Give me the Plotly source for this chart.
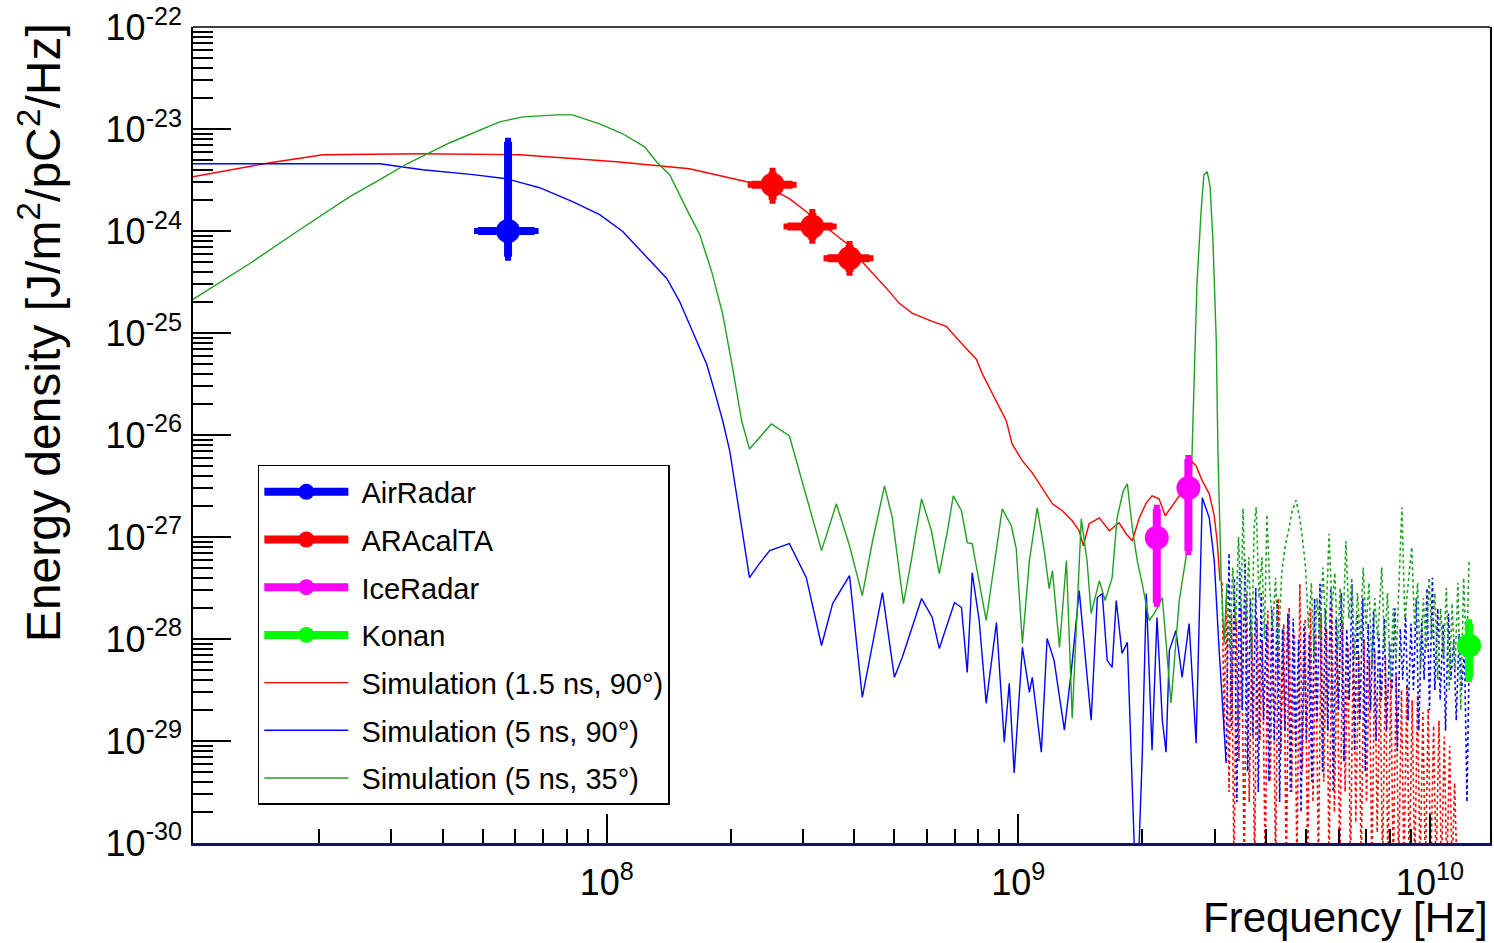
import plotly.graph_objects as go

# ---------------- data ----------------
# Simulation curves stored as log10(frequency/Hz), log10(energy density)
sim15_solid_logf = [6.995, 7.085, 7.182, 7.311, 7.546, 7.789, 7.886, 8.024, 8.201, 8.282, 8.340, 8.371,
                    8.444, 8.500, 8.583, 8.631, 8.680, 8.711, 8.743, 8.791, 8.825, 8.864, 8.898, 8.913,
                    8.947, 8.971, 8.985, 9.010, 9.034, 9.058, 9.083, 9.107, 9.131, 9.148, 9.158, 9.172,
                    9.197, 9.221, 9.245, 9.262, 9.277, 9.294, 9.311, 9.325, 9.342, 9.357, 9.374, 9.391,
                    9.405, 9.420, 9.432, 9.447, 9.464, 9.476, 9.483, 9.490]
sim15_solid_logE = [-23.467, -23.399, -23.330, -23.252, -23.242, -23.252, -23.281, -23.320, -23.389, -23.467,
                    -23.516, -23.526, -23.682, -23.858, -24.122, -24.347, -24.562, -24.709, -24.807, -24.885,
                    -24.934, -25.110, -25.257, -25.403, -25.667, -25.863, -26.088, -26.254, -26.372, -26.518,
                    -26.675, -26.743, -26.841, -26.939, -27.086, -26.870, -26.812, -26.939, -26.861, -26.968,
                    -27.037, -26.812, -26.665, -26.597, -26.626, -26.792, -26.694, -26.597, -26.430, -26.254,
                    -26.303, -26.450, -26.577, -26.792, -27.037, -27.428]
sim15_dot_logf = [9.495, 9.500, 9.505, 9.512, 9.518, 9.524, 9.530, 9.536, 9.542, 9.549, 9.555, 9.561,
                  9.568, 9.574, 9.580, 9.587, 9.593, 9.600, 9.606, 9.612, 9.619, 9.625, 9.632, 9.638,
                  9.645, 9.651, 9.658, 9.664, 9.671, 9.677, 9.684, 9.690, 9.697, 9.703, 9.710, 9.716,
                  9.723, 9.729, 9.736, 9.742, 9.749, 9.755, 9.762, 9.768, 9.775, 9.781, 9.788, 9.794,
                  9.801, 9.807, 9.814, 9.820, 9.827, 9.833, 9.840, 9.846, 9.853, 9.859, 9.866, 9.872,
                  9.879, 9.885, 9.892, 9.898, 9.905, 9.911, 9.918, 9.924, 9.931, 9.937, 9.944, 9.950,
                  9.957, 9.963, 9.970, 9.976, 9.983, 9.989, 9.996, 10.002, 10.009, 10.015, 10.022, 10.028,
                  10.035, 10.041, 10.048, 10.054, 10.060, 10.066]
sim15_dot_logE = [-27.45, -28.90, -27.62, -29.50, -27.75, -30.30, -27.82, -29.20, -27.70, -30.30, -27.56, -29.60,
                  -27.95, -30.30, -27.80, -29.00, -28.02, -30.30, -27.72, -29.40, -27.90, -30.30, -27.60, -29.10,
                  -27.85, -30.30, -27.69, -29.50, -27.95, -30.30, -27.46, -29.30, -27.80, -30.30, -27.70, -29.60,
                  -27.95, -30.30, -27.75, -29.40, -27.90, -30.30, -27.69, -29.70, -28.00, -30.30, -27.85, -29.50,
                  -28.05, -30.30, -27.95, -29.80, -28.15, -30.30, -28.00, -29.60, -28.20, -30.30, -28.11, -29.90,
                  -28.30, -30.30, -28.18, -30.30, -28.40, -30.30, -28.35, -30.30, -28.50, -30.30, -28.45, -30.30,
                  -28.60, -30.30, -28.55, -30.30, -28.72, -30.30, -28.68, -30.30, -28.85, -30.30, -28.80, -30.30,
                  -28.96, -30.30, -29.05, -30.30, -29.41, -30.30]

sim5_90_solid_logf = [6.995, 7.255, 7.449, 7.553, 7.675, 7.757, 7.837, 7.917, 7.983, 8.039, 8.092, 8.146,
                      8.177, 8.218, 8.243, 8.262, 8.282, 8.299, 8.323, 8.347, 8.371, 8.396, 8.444, 8.485,
                      8.522, 8.549, 8.590, 8.621, 8.670, 8.699, 8.718, 8.765, 8.791, 8.808, 8.845, 8.862,
                      8.876, 8.888, 8.905, 8.922, 8.947, 8.966, 8.978, 8.990, 9.010, 9.027, 9.034, 9.056,
                      9.070, 9.087, 9.112, 9.129, 9.148, 9.163, 9.177, 9.192, 9.204, 9.216, 9.228, 9.238,
                      9.252, 9.265, 9.277, 9.284, 9.291, 9.301, 9.311, 9.325, 9.337, 9.350, 9.359, 9.367,
                      9.383, 9.398, 9.415, 9.432, 9.447, 9.464, 9.476, 9.488, 9.505]
sim5_90_solid_logE = [-23.340, -23.340, -23.340, -23.399, -23.447, -23.487, -23.575, -23.711, -23.839, -24.005,
                      -24.230, -24.465, -24.689, -25.081, -25.306, -25.570, -25.863, -26.156, -26.773, -27.399,
                      -27.262, -27.134, -27.066, -27.399, -28.064, -27.653, -27.379, -28.572, -27.545, -28.376,
                      -28.181, -27.604, -27.790, -28.093, -27.643, -27.692, -28.328, -27.350, -27.819, -28.631,
                      -27.839, -29.012, -28.435, -29.315, -28.083, -28.523, -28.376, -29.110, -27.995, -28.210,
                      -28.895, -28.308, -27.526, -28.210, -28.797, -27.594, -27.555, -28.210, -28.279, -27.623,
                      -28.142, -28.034, -29.482, -30.300, -30.300, -29.159, -27.555, -29.090, -27.790, -28.797,
                      -29.110, -28.112, -27.917, -28.376, -27.849, -29.022, -26.616, -26.812, -27.232, -28.112,
                      -29.218]
sim5_90_dot_logf = [9.505, 9.512, 9.518, 9.525, 9.531, 9.538, 9.544, 9.551, 9.557, 9.564, 9.570, 9.577,
                    9.583, 9.590, 9.596, 9.603, 9.609, 9.616, 9.622, 9.629, 9.635, 9.642, 9.648, 9.655,
                    9.661, 9.668, 9.674, 9.681, 9.687, 9.694, 9.700, 9.707, 9.713, 9.720, 9.726, 9.733,
                    9.739, 9.746, 9.752, 9.759, 9.765, 9.772, 9.778, 9.785, 9.791, 9.798, 9.804, 9.811,
                    9.817, 9.824, 9.830, 9.837, 9.843, 9.850, 9.856, 9.863, 9.869, 9.876, 9.882, 9.889,
                    9.895, 9.902, 9.908, 9.915, 9.921, 9.928, 9.934, 9.941, 9.947, 9.954, 9.960, 9.967,
                    9.973, 9.980, 9.986, 9.993, 9.999, 10.006, 10.012, 10.019, 10.025, 10.032, 10.038, 10.045,
                    10.051, 10.058, 10.064, 10.071, 10.077, 10.084, 10.090, 10.095]
sim5_90_dot_logE = [-29.20, -27.16, -28.90, -27.40, -29.60, -27.30, -28.70, -27.22, -29.30, -27.60, -28.95, -27.50,
                    -29.50, -27.55, -28.80, -27.85, -29.40, -27.70, -29.00, -27.62, -29.60, -27.90, -28.90, -27.75,
                    -29.50, -27.80, -29.10, -28.00, -29.70, -27.85, -29.00, -27.95, -29.40, -27.60, -28.80, -27.46,
                    -29.30, -27.70, -28.90, -27.50, -29.50, -27.80, -28.70, -27.55, -29.20, -27.90, -28.60, -27.46,
                    -29.10, -27.75, -28.80, -27.60, -29.30, -27.85, -28.70, -27.72, -29.00, -27.95, -28.60, -27.80,
                    -28.90, -28.05, -28.50, -27.70, -29.10, -27.90, -28.40, -27.75, -28.80, -27.85, -28.50, -27.60,
                    -28.90, -27.80, -28.40, -27.50, -28.70, -27.40, -28.50, -27.70, -28.60, -27.85, -28.90, -27.75,
                    -28.40, -28.00, -28.80, -27.95, -28.50, -28.10, -29.60, -28.30]

sim5_35_solid_logf = [6.995, 7.133, 7.255, 7.376, 7.449, 7.515, 7.619, 7.740, 7.796, 7.879, 7.917, 7.983,
                      8.039, 8.092, 8.121, 8.153, 8.201, 8.226, 8.255, 8.282, 8.306, 8.328, 8.347, 8.400,
                      8.444, 8.481, 8.522, 8.558, 8.590, 8.621, 8.646, 8.675, 8.694, 8.721, 8.740, 8.765,
                      8.789, 8.808, 8.828, 8.842, 8.862, 8.876, 8.888, 8.922, 8.942, 8.961, 8.983, 8.995,
                      9.010, 9.027, 9.046, 9.063, 9.075, 9.083, 9.100, 9.117, 9.131, 9.143, 9.153, 9.167,
                      9.177, 9.197, 9.211, 9.228, 9.240, 9.255, 9.265, 9.277, 9.289, 9.301, 9.318, 9.330,
                      9.350, 9.371, 9.391, 9.410, 9.420, 9.427, 9.434, 9.444, 9.451, 9.459, 9.466, 9.473,
                      9.481, 9.485, 9.493, 9.500, 9.507]
sim5_35_solid_logE = [-24.670, -24.318, -23.985, -23.663, -23.496, -23.340, -23.134, -22.929, -22.880, -22.861,
                      -22.861, -22.949, -23.046, -23.174, -23.320, -23.447, -23.839, -24.034, -24.396, -24.817,
                      -25.345, -25.863, -26.137, -25.892, -26.010, -26.548, -27.134, -26.675, -27.086, -27.575,
                      -27.037, -26.499, -26.812, -27.653, -27.232, -26.626, -26.939, -27.359, -26.939, -26.597,
                      -26.743, -27.056, -27.066, -27.819, -27.232, -26.724, -26.890, -27.115, -28.044, -27.232,
                      -26.714, -27.134, -27.506, -27.330, -28.083, -27.232, -28.778, -27.623, -26.822, -27.232,
                      -27.751, -27.428, -27.623, -27.399, -26.812, -26.548, -26.479, -26.910, -27.232, -27.457,
                      -27.819, -27.751, -27.594, -28.631, -27.623, -27.134, -26.479, -25.501, -24.523, -23.809,
                      -23.447, -23.418, -23.565, -24.103, -25.081, -26.156, -27.428, -28.044, -27.457]
sim5_35_dot_logf = [9.507, 9.514, 9.521, 9.528, 9.535, 9.541, 9.546, 9.553, 9.560, 9.567, 9.573, 9.578,
                    9.585, 9.592, 9.598, 9.604, 9.611, 9.618, 9.625, 9.632, 9.640, 9.648, 9.656, 9.665,
                    9.675, 9.683, 9.690, 9.698, 9.705, 9.712, 9.719, 9.726, 9.733, 9.740, 9.747, 9.755,
                    9.762, 9.769, 9.776, 9.782, 9.789, 9.796, 9.803, 9.810, 9.817, 9.824, 9.831, 9.838,
                    9.845, 9.852, 9.859, 9.866, 9.873, 9.883, 9.890, 9.897, 9.904, 9.911, 9.918, 9.925,
                    9.932, 9.939, 9.946, 9.956, 9.963, 9.970, 9.977, 9.984, 9.991, 9.998, 10.005, 10.012,
                    10.019, 10.026, 10.033, 10.040, 10.047, 10.054, 10.061, 10.068, 10.075, 10.082, 10.089, 10.095]
sim5_35_dot_logE = [-27.46, -28.10, -27.30, -27.90, -27.00, -27.70, -26.72, -27.80, -27.20, -28.20, -26.90, -26.71,
                    -27.60, -27.20, -28.00, -26.78, -27.50, -27.90, -27.40, -28.10, -27.35, -27.10, -26.95, -26.75,
                    -26.64, -26.80, -27.00, -27.30, -27.90, -27.45, -28.20, -27.60, -28.00, -27.30, -27.90, -26.97,
                    -27.70, -27.35, -28.10, -27.50, -27.90, -27.04, -27.80, -27.40, -28.20, -27.55, -28.00, -27.30,
                    -27.90, -27.45, -28.30, -27.60, -28.00, -27.30, -28.10, -27.55, -28.40, -27.70, -28.20, -27.40,
                    -26.71, -27.80, -27.50, -27.10, -27.90, -27.45, -28.30, -27.60, -28.10, -27.40, -28.00, -27.55,
                    -28.40, -27.70, -28.20, -27.50, -28.50, -27.65, -28.30, -27.45, -28.70, -27.40, -28.20, -27.23]

# Measurements (frequency in Hz, energy density in J/m^2/pC^2/Hz)
airradar_f = [5.76e7]
airradar_E = [1.0e-24]
airradar_f_lo = [0.89e7]
airradar_f_hi = [0.92e7]
airradar_E_lo = [4.4e-25]
airradar_E_hi = [6.5e-24]

aracalta_f = [2.53e8, 3.16e8, 3.89e8]
aracalta_E = [2.85e-24, 1.11e-24, 5.4e-25]
aracalta_f_lo = [0.28e8, 0.41e8, 0.45e8]
aracalta_f_hi = [0.30e8, 0.38e8, 0.46e8]
aracalta_E_lo = [0.82e-24, 0.29e-24, 1.4e-25]
aracalta_E_hi = [0.97e-24, 0.39e-24, 1.9e-25]

iceradar_f = [2.17e9, 2.59e9]
iceradar_E = [9.84e-28, 3.03e-27]
iceradar_E_lo = [7.57e-28, 2.30e-27]
iceradar_E_hi = [9.1e-28, 2.79e-27]

konan_f = [1.245e10]
konan_E = [8.63e-29]
konan_E_lo = [4.5e-29]
konan_E_hi = [5.6e-29]

x_tick_vals = [1e8, 1e9, 1e10]
x_tick_text = ["10<sup>8</sup>", "10<sup>9</sup>", "10<sup>10</sup>"]
y_exponents = [-22, -23, -24, -25, -26, -27, -28, -29, -30]

# ---------------- styling ----------------
FONT = "Liberation Sans, Arial, Helvetica, sans-serif"
C_BLUE = "#0000ff"
C_RED = "#ff0000"
C_MAG = "#ff00ff"
C_LGREEN = "#00ff00"
C_SGREEN = "#20a020"
NB = "\u00a0"


def pw(vals):
    return [10 ** v for v in vals]


fig = go.Figure()

sims = [
    ("Simulation (1.5 ns, 90°)", C_RED, sim15_solid_logf, sim15_solid_logE, sim15_dot_logf, sim15_dot_logE),
    ("Simulation (5 ns, 90°)", C_BLUE, sim5_90_solid_logf, sim5_90_solid_logE, sim5_90_dot_logf, sim5_90_dot_logE),
    ("Simulation (5 ns, 35°)", C_SGREEN, sim5_35_solid_logf, sim5_35_solid_logE, sim5_35_dot_logf, sim5_35_dot_logE),
]

for name, col, sf, se, df, de in sims:
    fig.add_trace(go.Scatter(x=pw(df), y=pw(de), mode="lines", showlegend=False,
                             line=dict(color=col, width=1.6, dash="dot"), hoverinfo="skip"))
for name, col, sf, se, df, de in sims:
    fig.add_trace(go.Scatter(x=pw(sf), y=pw(se), mode="lines", showlegend=False,
                             line=dict(color=col, width=1.4)))

MS = 24
TH = 8


def data_trace(x, y, col, ex=None, ey=None):
    kw = {}
    if ex is not None:
        kw["error_x"] = dict(type="data", symmetric=False, array=ex[1], arrayminus=ex[0],
                             color=col, thickness=TH, width=3)
    if ey is not None:
        kw["error_y"] = dict(type="data", symmetric=False, array=ey[1], arrayminus=ey[0],
                             color=col, thickness=TH, width=3)
    return go.Scatter(x=x, y=y, mode="markers", showlegend=False,
                      marker=dict(color=col, size=MS, line=dict(width=0)), **kw)


fig.add_trace(data_trace(airradar_f, airradar_E, C_BLUE, (airradar_f_lo, airradar_f_hi), (airradar_E_lo, airradar_E_hi)))
fig.add_trace(data_trace(aracalta_f, aracalta_E, C_RED, (aracalta_f_lo, aracalta_f_hi), (aracalta_E_lo, aracalta_E_hi)))
fig.add_trace(data_trace(iceradar_f, iceradar_E, C_MAG, None, (iceradar_E_lo, iceradar_E_hi)))
fig.add_trace(data_trace(konan_f, konan_E, C_LGREEN, None, (konan_E_lo, konan_E_hi)))

# legend-only entries
for name, col in [("AirRadar", C_BLUE), ("ARAcalTA", C_RED), ("IceRadar", C_MAG), ("Konan", C_LGREEN)]:
    fig.add_trace(go.Scatter(x=[None], y=[None], mode="lines+markers", name=NB + name, legendgroup=name,
                             line=dict(color=col, width=TH), marker=dict(color=col, size=22)))
for name, col, *_ in sims:
    fig.add_trace(go.Scatter(x=[None], y=[None], mode="lines", name=NB + name, legendgroup=name,
                             line=dict(color=col, width=1.4)))

# ticks
x_minor = [m * 10 ** d for d in (7, 8, 9) for m in range(2, 10)]
y_minor = [m * 10.0 ** d for d in range(-30, -22) for m in range(2, 10)]

fig.update_xaxes(type="log", range=[6.995, 10.146], showgrid=False, zeroline=False,
                 tickmode="array", tickvals=x_tick_vals, ticktext=x_tick_text,
                 ticks="inside", ticklen=29, tickwidth=1.5, tickcolor="black",
                 minor=dict(ticks="inside", ticklen=14, tickwidth=1.5, tickcolor="black",
                            tickmode="array", tickvals=x_minor, showgrid=False),
                 tickfont=dict(family=FONT, size=36, color="black"), ticklabelstandoff=6,
                 ticklabeloverflow="allow",
                 showline=True, linecolor="#101070", linewidth=2.5)
fig.update_yaxes(type="log", range=[-30.001, -21.999], showgrid=False, zeroline=False,
                 tickmode="array", tickvals=[10.0 ** e for e in y_exponents],
                 ticktext=["10<sup>%d</sup>" % e for e in y_exponents],
                 ticks="inside", ticklen=38, tickwidth=1.5, tickcolor="black",
                 minor=dict(ticks="inside", ticklen=20, tickwidth=1.5, tickcolor="black",
                            tickmode="array", tickvals=y_minor, showgrid=False),
                 tickfont=dict(family=FONT, size=36, color="black"), ticklabelstandoff=2,
                 ticklabeloverflow="allow",
                 showline=True, linecolor="black", linewidth=1.5, mirror=True)

fig.add_shape(type="line", xref="paper", yref="paper", x0=0, x1=1, y0=1, y1=1,
              line=dict(color="black", width=1.5))

fig.add_annotation(text="Energy density [J/m<sup>2</sup>/pC<sup>2</sup>/Hz]", textangle=-90,
                   xref="paper", yref="paper", x=-0.118, y=0.626, xanchor="center", yanchor="middle",
                   showarrow=False, font=dict(family=FONT, size=48, color="black"))
fig.add_annotation(text="Frequency [Hz]", xref="paper", yref="paper", x=1.0, y=-0.0917,
                   xanchor="right", yanchor="middle", showarrow=False,
                   font=dict(family=FONT, size=42, color="black"))

fig.update_layout(
    width=1494, height=943,
    margin=dict(l=193, r=2, t=25, b=100),
    paper_bgcolor="white", plot_bgcolor="white",
    legend=dict(x=0.050, y=0.4633, xanchor="left", yanchor="top",
                bgcolor="white", bordercolor="black", borderwidth=1.5,
                font=dict(family=FONT, size=29, color="black"),
                traceorder="grouped", tracegroupgap=7, itemwidth=84),
    showlegend=True,
)

fig.write_html("out.html", config={"displayModeBar": False},
               post_script="document.body.style.margin='0';document.body.style.overflow='hidden';")
